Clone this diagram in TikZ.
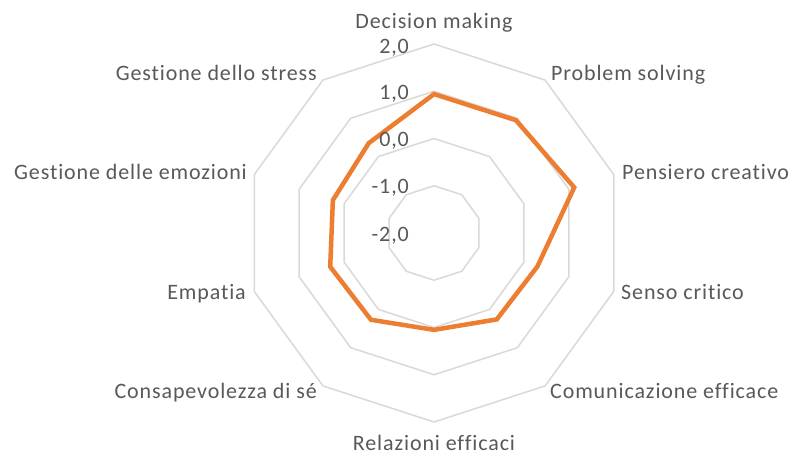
\documentclass[tikz,border=0pt]{standalone}
\usepackage{fontspec}
\setmainfont[Ligatures={NoCommon},LetterSpace=4]{Carlito}
\usetikzlibrary{calc}
\definecolor{gridgray}{HTML}{D9D9D9}
\definecolor{txtgray}{HTML}{595959}
\definecolor{serieorange}{HTML}{ED7D31}
\begin{document}
\begin{tikzpicture}[x=1pt,y=1pt,
  ring/.style={draw=gridgray,line width=1.5pt},
  serie/.style={draw=serieorange,line width=4.5pt,line join=miter},
  lbl/.style={text=txtgray,font=\fontsize{22}{26}\selectfont,inner sep=0pt},
  tick/.style={lbl,anchor=base east}]
\useasboundingbox[fill=white] (0,0) rectangle (792,455);
\coordinate (c) at (434,222);
% rings
\foreach \k in {1,2,3,4}{
  \draw[ring] ($(c)+(90:{47.25*\k})$)
    \foreach \a in {54,18,-18,-54,-90,-126,-162,162,126}{ -- ($(c)+(\a:{47.25*\k})$)} -- cycle;
}
% data
\draw[serie]
  ($(c)+(90:{47.25*(0.94+2)})$) coordinate (p1)
  -- ($(c)+(54:{47.25*(0.95+2)})$) coordinate (p2)
  -- ($(c)+(18:{47.25*(1.12+2)})$) coordinate (p3)
  -- ($(c)+(-18:{47.25*(0.30+2)})$) coordinate (p4)
  -- ($(c)+(-54:{47.25*(0.26+2)})$) coordinate (p5)
  -- ($(c)+(-90:{47.25*(0.05+2)})$) coordinate (p6)
  -- ($(c)+(-126:{47.25*(0.27+2)})$) coordinate (p7)
  -- ($(c)+(-162:{47.25*(0.31+2)})$) coordinate (p8)
  -- ($(c)+(162:{47.25*(0.25+2)})$) coordinate (p9)
  -- ($(c)+(126:{47.25*(0.35+2)})$) coordinate (p10)
  -- cycle;
% axis values
\node[tick] (t2) at (409,401) {2,0};
\node[tick] (t1) at (409,355.7) {1,0};
\node[tick] (t0) at (409,308.3) {0,0};
\node[tick] (tm1) at (409,261.7) {-1,0};
\node[tick] (tm2) at (409,213.3) {-2,0};
% category labels
\node[lbl,anchor=base] (dm) at (434,426.7) {Decision making};
\node[lbl,anchor=base west] (ps) at (551,374.3) {Problem solving};
\node[lbl,anchor=base west] (pc) at (622,275.3) {Pensiero creativo};
\node[lbl,anchor=base west] (sc) at (621,155) {Senso critico};
\node[lbl,anchor=base west] (ce) at (550,56.7) {Comunicazione efficace};
\node[lbl,anchor=base] (re) at (434,5) {Relazioni efficaci};
\node[lbl,anchor=base east] (cs) at (317,56.7) {Consapevolezza di sé};
\node[lbl,anchor=base east] (em) at (246,155) {Empatia};
\node[lbl,anchor=base east] (ge) at (247,275.3) {Gestione delle emozioni};
\node[lbl,anchor=base east] (gs) at (317,374.3) {Gestione dello stress};
\end{tikzpicture}
\end{document}
